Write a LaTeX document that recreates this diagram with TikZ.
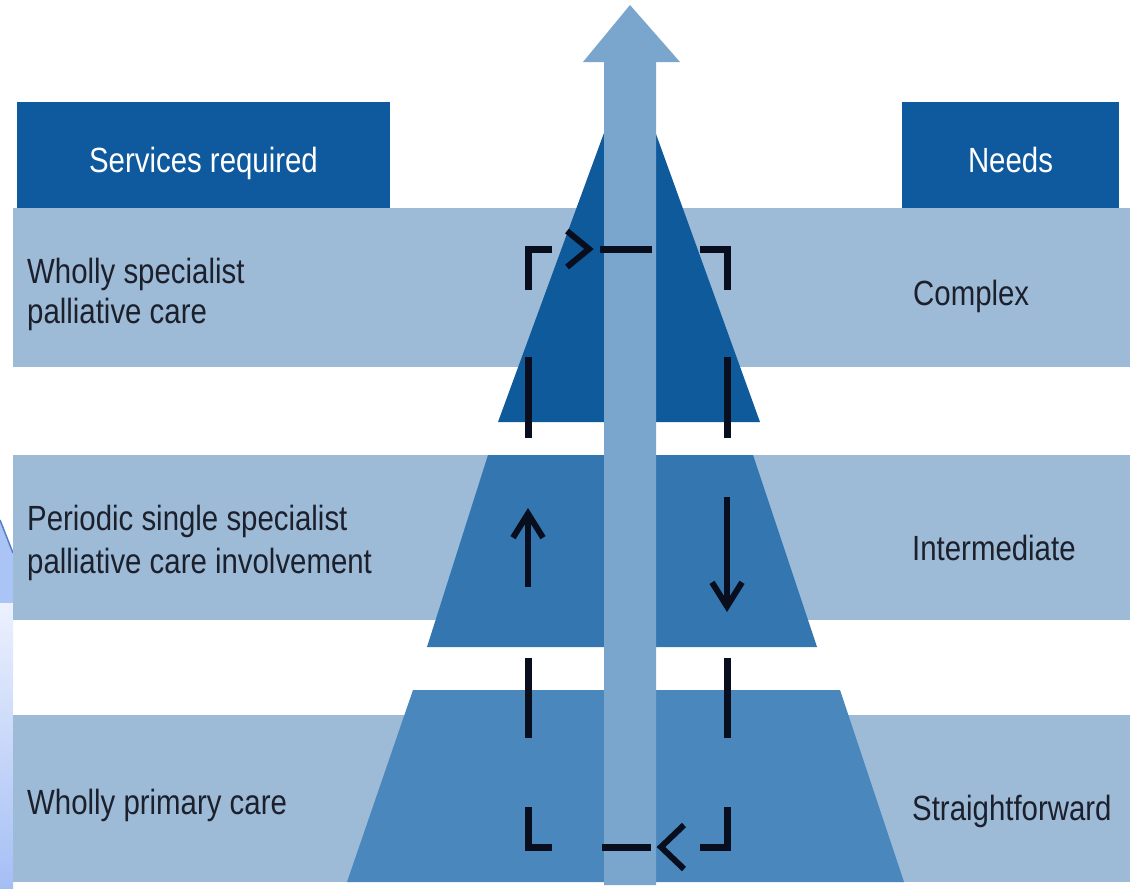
\documentclass[tikz,border=0pt]{standalone}
\usepackage{fontspec}
\newfontfamily\lblfont{Liberation Sans}[FakeStretch=0.84]
\usetikzlibrary{arrows.meta}
\definecolor{band}{RGB}{157,187,214}
\definecolor{hdr}{RGB}{15,90,158}
\definecolor{tierA}{RGB}{14,90,155}
\definecolor{tierB}{RGB}{52,118,176}
\definecolor{tierC}{RGB}{74,135,189}
\definecolor{shaftc}{RGB}{122,166,206}
\definecolor{dashc}{RGB}{8,14,30}
\definecolor{txt}{RGB}{28,32,44}
\definecolor{sideA}{RGB}{170,196,246}
\definecolor{sideB}{RGB}{236,241,253}
\definecolor{sideC}{RGB}{164,190,245}
\definecolor{sideL}{RGB}{90,125,200}
\begin{document}
\begin{tikzpicture}[x=1pt,y=-1pt,
  lbl/.style={font=\lblfont\fontsize{35}{40}\selectfont, text=txt, inner sep=0pt, anchor=base west},
  hdrbox/.style={fill=hdr, inner sep=0pt, text=white, font=\lblfont\fontsize{35}{40}\selectfont, text height=34pt, text depth=0pt, minimum height=106pt},
  frame/.style={draw=dashc, line width=7pt, line join=miter, line cap=butt},
  chev/.style={draw=dashc, line width=6pt, line join=miter, line cap=butt},
  tipped/.style={draw=dashc, line width=6pt, -{Straight Barb[length=24pt,width=30pt,line width=6pt]}}]
\useasboundingbox (0,0) rectangle (1130,889);
\fill[white] (0,0) rectangle (1130,889);
% left-edge remnant
\fill[sideA] (0,520) -- (13,553) -- (13,603) -- (0,603) -- cycle;
\draw[sideL, line width=1.5pt] (0,520) -- (13,553);
\shade[top color=sideB, bottom color=sideC] (0,603) rectangle (13,889);
% bands
\fill[band] (13,208) rectangle (1130,367);
\fill[band] (13,455) rectangle (1130,620);
\fill[band] (13,715) rectangle (1130,882);
% headers
\node[hdrbox, minimum width=373pt] (svc) at (203.5,155) {Services required};
\node[hdrbox, minimum width=217pt] (needs) at (1010.5,155) {Needs};
% pyramid
\fill[tierA] (630,62) -- (760,422) -- (498,422) -- cycle;
\fill[tierB] (488,455) -- (753,455) -- (817,647) -- (427,647) -- cycle;
\fill[tierC] (413,690) -- (840,690) -- (904,882) -- (347,882) -- cycle;
% central arrow
\fill[shaftc] (604,885) -- (604,62) -- (583,62) -- (630,5) -- (680,62) -- (656,62) -- (656,885) -- cycle;
% dashed frame
\coordinate (fTL) at (528,249);
\coordinate (fTR) at (727,249);
\coordinate (fBL) at (528,847);
\coordinate (fBR) at (727,847);
\draw[frame] (528,290) -- (fTL) -- (552,249);
\draw[chev] (567,231) -- (589,249) -- (567,267);
\draw[frame] (600,249) -- (652,249);
\draw[frame] (700,249) -- (fTR) -- (727,290);
\draw[frame] (528,357) -- (528,438);
\draw[frame] (727,357) -- (727,438);
\draw[tipped] (528,587) -- (528,508);
\draw[tipped] (727,497) -- (727,612);
\draw[frame] (528,658) -- (528,738);
\draw[frame] (727,658) -- (727,738);
\draw[frame] (528,807) -- (fBL) -- (552,847);
\draw[frame] (602,847) -- (651,847);
\draw[chev] (684,825) -- (661,847) -- (684,869);
\draw[frame] (700,847) -- (fBR) -- (727,807);
% labels
\node[lbl] (s1a) at (27,283) {Wholly specialist};
\node[lbl] (s1b) at (27,323) {palliative care};
\node[lbl] (s2a) at (27,530) {Periodic single specialist};
\node[lbl] (s2b) at (27,573) {palliative care involvement};
\node[lbl] (s3) at (27,814) {Wholly primary care};
\node[lbl] (n1) at (913,305) {Complex};
\node[lbl] (n2) at (912,560) {Intermediate};
\node[lbl] (n3) at (912,820) {Straightforward};
\end{tikzpicture}
\end{document}
